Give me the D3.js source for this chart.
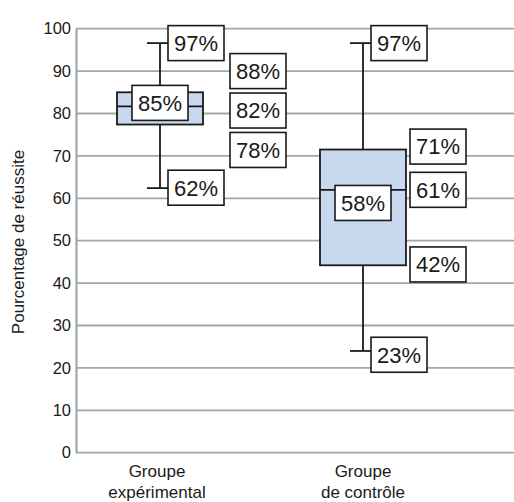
<!DOCTYPE html>
<html>
<head>
<meta charset="utf-8">
<script src="https://cdn.jsdelivr.net/npm/d3@7"></script>
<style>
  html, body { margin: 0; padding: 0; background: #fff; }
  svg { display: block; font-family: "Liberation Sans", Arial, Helvetica, sans-serif; }
</style>
</head>
<body>
<svg id="chart" width="514" height="502"></svg>
<script>
// ---- data ----
const categories = ["Groupe expérimental", "Groupe de contrôle"];
const categoryLines = [["Groupe", "expérimental"], ["Groupe", "de contrôle"]];
const whiskerMax = [96.6, 96.6];
const q3 = [85.0, 71.5];
const median = [81.7, 62.0];
const q1 = [77.4, 44.2];
const whiskerMin = [62.4, 24.0];
const yTicks = [0, 10, 20, 30, 40, 50, 60, 70, 80, 90, 100];
const yTitle = "Pourcentage de réussite";
// annotation texts per group
const labelTexts = [
  ["97%", "88%", "82%", "78%", "85%", "62%"],
  ["97%", "71%", "61%", "58%", "42%", "23%"]
];
// annotation anchor values (data units) per group
const labelValues = [
  [96.6, 90.0, 80.7, 71.4, 82.5, 62.5],
  [96.6, 72.2, 62.0, 58.9, 44.4, 23.1]
];

// ---- layout ----
const W = 514, H = 502;
const plotLeft = 76, plotRight = 514, plotTop = 28.7, plotBottom = 452.7;
const svg = d3.select("#chart");

const y = d3.scaleLinear().domain([0, 100]).range([plotBottom, plotTop]);
const x = d3.scalePoint().domain(categories).range([160, 363]);

// label column offsets (px from group centre; "c" = centred)
const labelOffsets = [
  [8, 70, 70, 70, "c", 8],
  [8, 47, 47, "c", 47, 8]
];
const boxW = 86, capHalf = 13, lblW = 56, lblH = 35;
const gridColor = "#a6a6a6";
const ink = "#1a1a1a";

// gridlines
svg.append("g").selectAll("line").data(yTicks).join("line")
  .attr("x1", plotLeft).attr("x2", plotRight)
  .attr("y1", d => y(d)).attr("y2", d => y(d))
  .attr("stroke", gridColor).attr("stroke-width", 1.8);

// y axis
const yAxis = svg.append("g").attr("transform", `translate(${plotLeft},0)`)
  .call(d3.axisLeft(y).tickValues(yTicks).tickSize(0).tickPadding(5));
yAxis.select(".domain").attr("stroke", gridColor).attr("stroke-width", 2.2);
yAxis.selectAll("text").attr("font-size", 16.5).attr("fill", ink)
  .attr("font-family", "'Liberation Sans', Arial, sans-serif");

// y title
svg.append("text")
  .attr("transform", `translate(24,242) rotate(-90)`)
  .attr("text-anchor", "middle")
  .attr("font-size", 17).attr("fill", ink)
  .text(yTitle);

// x labels
const xl = svg.append("g");
categories.forEach((c, i) => {
  const lx = x(c) - (i === 0 ? 3 : 0);
  const t = xl.append("text")
    .attr("x", lx).attr("y", 477)
    .attr("text-anchor", "middle").attr("font-size", 17).attr("fill", ink);
  categoryLines[i].forEach((ln, j) => {
    t.append("tspan").attr("x", lx).attr("dy", j === 0 ? 0 : 21).text(ln);
  });
});

// boxes
const g = svg.append("g");
categories.forEach((c, i) => {
  const cx = x(c);
  g.append("line").attr("x1", cx).attr("x2", cx)
    .attr("y1", y(whiskerMax[i])).attr("y2", y(q3[i]))
    .attr("stroke", ink).attr("stroke-width", 1.8);
  g.append("line").attr("x1", cx).attr("x2", cx)
    .attr("y1", y(q1[i])).attr("y2", y(whiskerMin[i]))
    .attr("stroke", ink).attr("stroke-width", 1.8);
  [whiskerMax[i], whiskerMin[i]].forEach(v => {
    g.append("line").attr("x1", cx - capHalf).attr("x2", cx + capHalf)
      .attr("y1", y(v)).attr("y2", y(v))
      .attr("stroke", ink).attr("stroke-width", 1.8);
  });
  g.append("rect").attr("x", cx - boxW / 2).attr("width", boxW)
    .attr("y", y(q3[i])).attr("height", y(q1[i]) - y(q3[i]))
    .attr("fill", "#c8d8ee").attr("stroke", ink).attr("stroke-width", 1.8);
  g.append("line").attr("x1", cx - boxW / 2).attr("x2", cx + boxW / 2)
    .attr("y1", y(median[i])).attr("y2", y(median[i]))
    .attr("stroke", ink).attr("stroke-width", 1.8);
});

// annotation labels
const lg = svg.append("g");
categories.forEach((c, i) => {
  const cx = x(c);
  labelTexts[i].forEach((txt, k) => {
    const off = labelOffsets[i][k];
    const left = off === "c" ? cx - lblW / 2 : cx + off;
    const cy = y(labelValues[i][k]);
    lg.append("rect").attr("x", left).attr("y", cy - lblH / 2)
      .attr("width", lblW).attr("height", lblH)
      .attr("fill", "#fff").attr("stroke", ink).attr("stroke-width", 1.6);
    lg.append("text").attr("x", left + lblW / 2).attr("y", cy)
      .attr("dy", "0.36em").attr("text-anchor", "middle")
      .attr("font-size", 22).attr("fill", ink).text(txt);
  });
});
</script>
</body>
</html>
